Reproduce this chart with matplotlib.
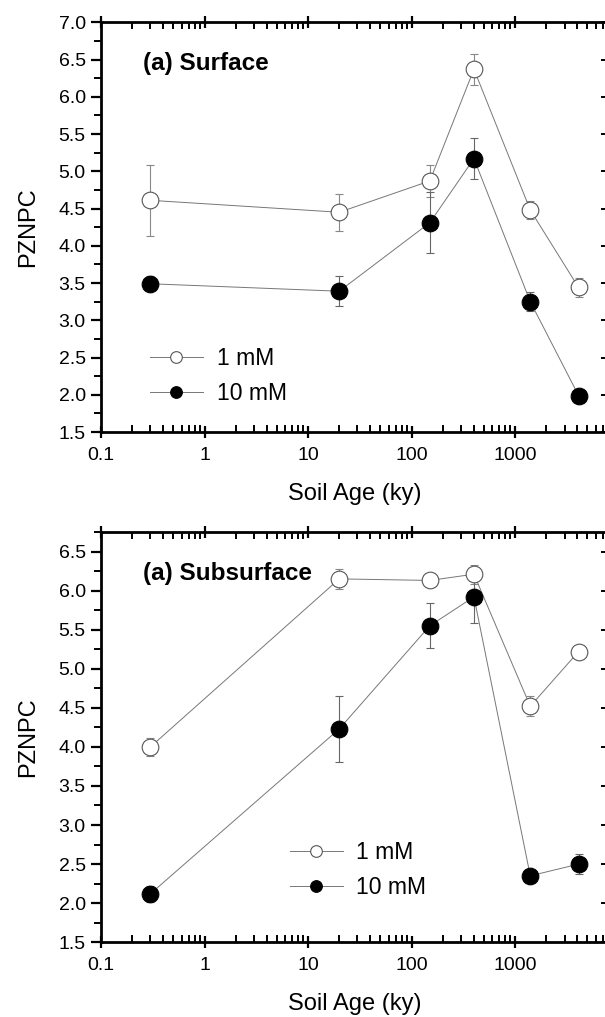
import numpy as np
import matplotlib
matplotlib.use("agg")
import matplotlib.pyplot as plt
from matplotlib.ticker import MultipleLocator, LogLocator, FuncFormatter, NullFormatter

plt.rcParams['font.family'] = ['Liberation Sans', 'DejaVu Sans']

# soil age (ky)
age = [0.3, 20, 150, 400, 1400, 4100]

# surface
surf_1mM = [4.61, 4.45, 4.87, 6.37, 4.48, 3.44]
surf_1mM_err = [0.48, 0.25, 0.21, 0.21, 0.12, 0.13]
surf_10mM = [3.49, 3.39, 4.31, 5.17, 3.25, 1.99]
surf_10mM_err = [0.10, 0.20, 0.41, 0.28, 0.13, 0.03]

# subsurface
sub_1mM = [4.00, 6.15, 6.13, 6.21, 4.52, 5.22]
sub_1mM_err = [0.12, 0.13, 0.05, 0.12, 0.13, 0.05]
sub_10mM = [2.12, 4.23, 5.55, 5.92, 2.35, 2.50]
sub_10mM_err = [0.10, 0.42, 0.29, 0.34, 0.05, 0.13]

fig = plt.figure(figsize=(6.05, 10.17), dpi=100)

panels = [
    dict(pos=[0.167, 0.5752, 0.839, 0.4029], ylim=(1.5, 7.0), title="(a) Surface",
         d1=surf_1mM, e1=surf_1mM_err, d10=surf_10mM, e10=surf_10mM_err,
         leg=(0.0966, 0.137)),
    dict(pos=[0.167, 0.0735, 0.839, 0.4034], ylim=(1.5, 6.75), title="(a) Subsurface",
         d1=sub_1mM, e1=sub_1mM_err, d10=sub_10mM, e10=sub_10mM_err,
         leg=(0.372, 0.176)),
]

line_c = '#777777'
for p in panels:
    ax = fig.add_axes(p['pos'])
    c1 = ax.errorbar(age, p['d1'], yerr=p['e1'], fmt='o-', color=line_c, lw=0.7,
                     ms=12, mfc='white', mec='#555555', mew=0.8,
                     ecolor='#888888', elinewidth=0.8, capsize=3.2, capthick=0.8,
                     zorder=3)
    c10 = ax.errorbar(age, p['d10'], yerr=p['e10'], fmt='o-', color=line_c, lw=0.7,
                      ms=12, mfc='black', mec='black', mew=0.8,
                      ecolor='#666666', elinewidth=0.8, capsize=3.2, capthick=0.8,
                      zorder=3)

    ax.set_xscale('log')
    ax.set_xlim(0.1, 8000)
    ax.set_ylim(*p['ylim'])

    ax.xaxis.set_major_locator(LogLocator(base=10))
    ax.xaxis.set_minor_locator(LogLocator(base=10, subs=np.arange(2, 10)))
    ax.xaxis.set_major_formatter(FuncFormatter(lambda v, pos: '%g' % v))
    ax.xaxis.set_minor_formatter(NullFormatter())
    ax.yaxis.set_major_locator(MultipleLocator(0.5))
    ax.yaxis.set_minor_locator(MultipleLocator(0.25))
    ax.yaxis.set_major_formatter(FuncFormatter(lambda v, pos: '%.1f' % v))

    ax.tick_params(axis='x', which='major', direction='inout', length=9, width=1.6,
                   top=True, labelsize=14, pad=6)
    ax.tick_params(axis='x', which='minor', direction='in', length=5, width=1.4, top=True)
    ax.tick_params(axis='y', which='major', direction='out', length=7, width=1.6,
                   labelsize=14, pad=4)
    ax.tick_params(axis='y', which='minor', direction='out', length=5, width=1.4)

    sec = ax.secondary_yaxis('right')
    sec.yaxis.set_major_locator(MultipleLocator(0.5))
    sec.tick_params(direction='in', length=6, width=1.4, labelright=False)

    for s in ax.spines.values():
        s.set_linewidth(2)

    ax.set_xlabel('Soil Age (ky)', fontsize=17, labelpad=14)
    ax.set_ylabel('PZNPC', fontsize=17, labelpad=14)

    ax.text(0.083, 0.90, p['title'], transform=ax.transAxes, fontsize=17.5,
            fontweight='bold', va='center', ha='left')

    # legend shows only line + marker, no error bars
    ax.legend([c1.lines[0], c10.lines[0]], ['1 mM', '10 mM'],
              loc='center left', bbox_to_anchor=p['leg'], frameon=False,
              borderaxespad=0, borderpad=0, fontsize=16.5, handlelength=2.3,
              handletextpad=0.6, labelspacing=0.55, markerscale=0.7)

fig.savefig('out.png', dpi=100)
